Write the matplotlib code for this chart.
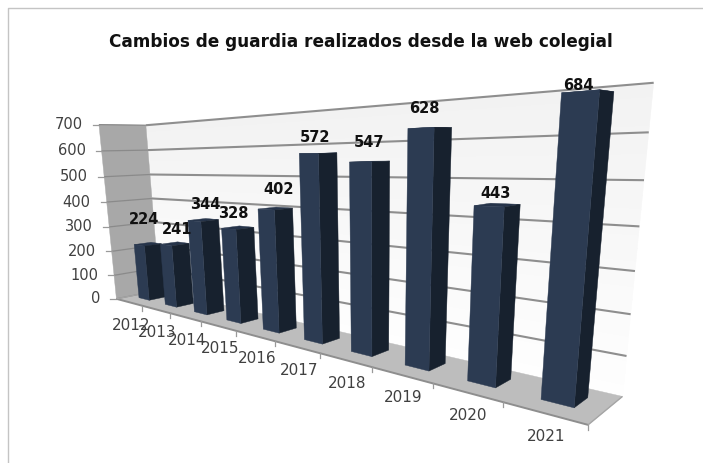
import numpy as np
import matplotlib
matplotlib.use("Agg")
import matplotlib.pyplot as plt

# ---- data
years = ["2012", "2013", "2014", "2015", "2016", "2017", "2018", "2019", "2020", "2021"]
values = [224, 241, 344, 328, 402, 572, 547, 628, 443, 684]
y_ticks = [0, 100, 200, 300, 400, 500, 600, 700]
title = "Cambios de guardia realizados desde la web colegial"

# ---- style / layout
W, H = 703, 463
C_FRONT, C_SIDE, C_TOP = "#2c3b52", "#17212e", "#26344a"
C_LWALL, C_FLOOR, C_GRID, C_TXT = "#a8a8a8", "#bdbdbd", "#8e8e8e", "#404040"
BAR_W = 0.40
D0, D1 = 0.34, 0.72
VMAX = 700
# small label nudges (pixels), to mimic the original placement
nudge_y = [-26, -16, -17, -15, -20, -16, -19, -19, -13, -6]
nudge_x = [5, 11, 11, 5, 12, 6, 9, 4, 7, -2]

# ---- perspective calibration: (category pos, depth, value) -> figure pixels
calib = [
    (0, 0, 0, 118, 300), (10, 0, 0, 588, 423), (0, 1, 0, 158, 287), (10, 1, 0, 623, 397),
    (0, 0, 700, 99, 123), (0, 1, 700, 148, 126), (10, 1, 700, 655, 84),
    (5, 0, 0, 277, 343), (9, 0, 0, 504, 403), (10, 1, 400, 640, 228),
    (0, 0, 400, 105, 203), (0, 1, 400, 151, 200),
    (9.3, 0.34, 684, 560, 91), (9.7, 0.34, 684, 598, 88),
    (9.3, 0.34, 0, 541, 400), (9.7, 0.34, 0, 573, 407),
]


def fit_projection(pts):
    rows, rhs = [], []
    for u, d, v, x, y in pts:
        v = v / VMAX
        rows.append([u, d, v, 1, 0, 0, 0, 0, -x * u, -x * d, -x * v]); rhs.append(x)
        rows.append([0, 0, 0, 0, u, d, v, 1, -y * u, -y * d, -y * v]); rhs.append(y)
    sol = np.linalg.lstsq(np.array(rows, float), np.array(rhs, float), rcond=None)[0]
    return np.append(sol, 1).reshape(3, 4)


PM = fit_projection(calib)


def P(u, d, v):
    h = PM @ np.array([u, d, v / VMAX, 1.0])
    return h[0] / h[2], h[1] / h[2]


def quad(ax, pts, color, z, **kw):
    xy = np.array([P(*p) for p in pts])
    ax.fill(xy[:, 0], xy[:, 1], color=color, zorder=z, lw=0.3, **kw)


def line(ax, a, b, color, lw, z):
    xa, ya = P(*a)
    xb, yb = P(*b)
    ax.plot([xa, xb], [ya, yb], color=color, lw=lw, zorder=z, solid_capstyle="butt")


fig = plt.figure(figsize=(W / 100, H / 100), dpi=100, facecolor="white")
ax = fig.add_axes([0, 0, 1, 1])
ax.set_xlim(0, W)
ax.set_ylim(H, 0)
ax.axis("off")

# chart-area frame (top and left only are in the picture)
ax.plot([703, 8, 8], [8, 8, 463], color="#c4c4c4", lw=1.0, zorder=1)

# back wall, soft vertical gradient
n = 24
for k in range(n):
    g = 0.950 + 0.045 * (k / (n - 1))
    quad(ax, [(0, 1, VMAX * (1 - k / n)), (10, 1, VMAX * (1 - k / n)),
              (10, 1, VMAX * (1 - (k + 1) / n)), (0, 1, VMAX * (1 - (k + 1) / n))],
         (g, g, g), 2)
# left wall and floor
quad(ax, [(0, 0, 0), (0, 1, 0), (0, 1, VMAX), (0, 0, VMAX)], C_LWALL, 3)
quad(ax, [(0, 0, 0), (10, 0, 0), (10, 1, 0), (0, 1, 0)], C_FLOOR, 3)

# gridlines and value-axis labels
for t in y_ticks:
    if t > 0:
        line(ax, (0, 1, t), (10, 1, t), C_GRID, 1.5, 4)
    line(ax, (0, 0, t), (0, 1, t), "#8a8a8a", 0.9, 4)
    x0, y0 = P(0, 0, t)
    ax.plot([x0 - 6, x0], [y0, y0], color="#9a9a9a", lw=0.9, zorder=4)
    ax.text(x0 - 16, y0, str(t), ha="right", va="center", fontsize=10.5,
            color=C_TXT, zorder=8)

# floor edges
line(ax, (0, 0, 0), (10, 0, 0), C_GRID, 1.4, 5)
line(ax, (10, 0, 0), (10, 1, 0), "#a5a5a5", 1.0, 5)
line(ax, (0, 0, 0), (0, 1, 0), "#a5a5a5", 0.8, 5)

# category ticks and labels
for i, yr in enumerate(years):
    x1, y1 = P(i + 1, 0, 0)
    ax.plot([x1, x1], [y1, y1 + 5], color="#9a9a9a", lw=0.9, zorder=5)
    xc, yc = P(i + 0.5, 0, 0)
    ax.text(xc + 2, yc + 23, yr, ha="center", va="center", fontsize=11, color=C_TXT, zorder=8)

# bars, back-to-front is left-to-right here
for i, val in enumerate(values):
    a, b = i + 0.5 - BAR_W / 2, i + 0.5 + BAR_W / 2
    z = 6 + i * 0.01
    quad(ax, [(a, D0, val), (b, D0, val), (b, D1, val), (a, D1, val)], C_TOP, z)
    quad(ax, [(b, D0, 0), (b, D1, 0), (b, D1, val), (b, D0, val)], C_SIDE, z)
    quad(ax, [(a, D0, 0), (b, D0, 0), (b, D0, val), (a, D0, val)], C_FRONT, z)
    xt, yt = P(i + 0.5, D0, val)
    ax.text(xt + nudge_x[i], yt + nudge_y[i], str(val), ha="center", va="center",
            fontsize=10.5, fontweight="bold", color="#111111", zorder=9)

ax.text(361, 42, title, ha="center", va="center", fontsize=12.2, fontweight="bold",
        color="#111111", zorder=9)

fig.savefig("out.png", dpi=100)
